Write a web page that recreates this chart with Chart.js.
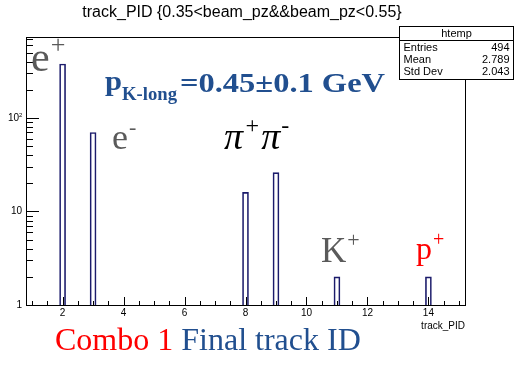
<!DOCTYPE html>
<html>
<head>
<meta charset="utf-8">
<script src="https://cdn.jsdelivr.net/npm/chart.js@4.4.0/dist/chart.umd.min.js"></script>
<style>
  html, body { margin: 0; padding: 0; background: #fff; }
  #wrap { width: 519px; height: 369px; position: relative; }
</style>
</head>
<body>
<div id="wrap"><canvas id="pidChart" width="519" height="369"></canvas></div>
<script>
// track_PID histogram (counts per particle id)
const trackIds = [2, 3, 8, 9, 11, 14];
const counts = [378, 70, 16, 26, 2, 2];

const xTickLabels = [2, 4, 6, 8, 10, 12, 14];
const yTickLabels = [1, 10, 100];

const statsRows = [["Entries", "494"], ["Mean", "2.789"], ["Std Dev", "2.043"]];

const X_MIN = 0.8, X_MAX = 15.2;
const Y_MIN = 1, Y_MAX = 735;

// write text squeezed/stretched to a given width
function fitText(ctx, txt, x, y, width) {
    const w = ctx.measureText(txt).width;
    ctx.save();
    ctx.translate(x, y);
    ctx.scale(width / w, 1);
    ctx.fillText(txt, 0, 0);
    ctx.restore();
}

// draws ROOT-like frame, inner ticks, labels and all the annotations
const rootStyle = {
    id: "rootStyle",
    afterDraw(chart) {
        const ctx = chart.ctx;
        const area = chart.chartArea;
        const xs = chart.scales.x, ys = chart.scales.y;
        ctx.save();

        // frame
        ctx.strokeStyle = "#000";
        ctx.lineWidth = 1;
        ctx.strokeRect(Math.round(area.left) + 0.5, Math.round(area.top) + 0.5,
            Math.round(area.right - area.left), Math.round(area.bottom - area.top));

        // x ticks (inside the frame)
        ctx.beginPath();
        for (let v = 1; v <= 15.001; v += 0.5) {
            const px = Math.round(xs.getPixelForValue(v)) + 0.5;
            const len = (v % 2 === 0) ? 8 : 4;
            ctx.moveTo(px, area.bottom);
            ctx.lineTo(px, area.bottom - len);
        }
        // y ticks, log
        for (let dec = 1; dec <= 100; dec *= 10) {
            for (let m = 1; m <= 9; m++) {
                const v = dec * m;
                if (v > Y_MAX) break;
                const py = Math.round(ys.getPixelForValue(v)) + 0.5;
                const len = (m === 1) ? 13 : 7;
                ctx.moveTo(area.left, py);
                ctx.lineTo(area.left + len, py);
            }
        }
        ctx.stroke();

        // tick labels
        ctx.fillStyle = "#000";
        ctx.font = "10px 'Liberation Sans', Arial, sans-serif";
        ctx.textAlign = "center";
        ctx.textBaseline = "middle";
        xTickLabels.forEach(v => {
            ctx.fillText(String(v), xs.getPixelForValue(v), area.bottom + 8);
        });
        ctx.textAlign = "right";
        yTickLabels.forEach(v => {
            const py = ys.getPixelForValue(v);
            if (v === 100) {
                ctx.font = "10px 'Liberation Sans', Arial, sans-serif";
                ctx.fillText("10", area.left - 7, py);
                ctx.font = "6px 'Liberation Sans', Arial, sans-serif";
                ctx.textAlign = "left";
                ctx.fillText("2", area.left - 7, py - 3);
                ctx.textAlign = "right";
                ctx.font = "10px 'Liberation Sans', Arial, sans-serif";
            } else {
                ctx.fillText(String(v), area.left - 4, py);
            }
        });

        // axis title
        ctx.textAlign = "right";
        ctx.fillText("track_PID", area.right, area.bottom + 21);

        // histogram title
        ctx.textAlign = "center";
        ctx.font = "16px 'Liberation Sans', Arial, sans-serif";
        ctx.fillText("track_PID {0.35<beam_pz&&beam_pz<0.55}", 242, 13);

        // stats box
        const bx = 399.5, by = 26.5, bw = 114, bh = 53;
        ctx.fillStyle = "#fff";
        ctx.fillRect(bx, by, bw, bh);
        ctx.strokeStyle = "#000";
        ctx.strokeRect(bx, by, bw, bh);
        ctx.beginPath();
        ctx.moveTo(bx, by + 14);
        ctx.lineTo(bx + bw, by + 14);
        ctx.stroke();
        ctx.fillStyle = "#000";
        ctx.font = "11px 'Liberation Sans', Arial, sans-serif";
        ctx.textAlign = "center";
        ctx.fillText("htemp", bx + bw / 2, by + 7);
        statsRows.forEach((r, i) => {
            const ty = by + 21 + i * 12;
            ctx.textAlign = "left";
            ctx.fillText(r[0], bx + 4, ty);
            ctx.textAlign = "right";
            ctx.fillText(r[1], bx + bw - 4, ty);
        });

        // particle labels
        ctx.textBaseline = "alphabetic";
        ctx.textAlign = "left";
        const serif = "'Liberation Serif', 'Times New Roman', serif";
        const sup = (base, supTxt, x, y, size, color, style) => {
            ctx.fillStyle = color;
            ctx.font = (style || "") + " " + size + "px " + serif;
            ctx.fillText(base, x, y);
            const w = ctx.measureText(base).width;
            ctx.font = (style || "") + " " + Math.round(size * 0.62) + "px " + serif;
            ctx.fillText(supTxt, x + w + 1, y - size * 0.42);
            return x + w + 1 + ctx.measureText(supTxt).width;
        };
        sup("e", "+", 31, 71, 42, "#5a5a5a");
        sup("e", "-", 112, 149, 36, "#5a5a5a");
        let nx = sup("\u03c0", "+", 224, 149, 38, "#000", "italic");
        sup("\u03c0", "-", nx + 1, 149, 38, "#000", "italic");
        sup("K", "+", 321, 262, 35, "#5a5a5a");
        sup("p", "+", 416, 259, 32, "#ff0000");

        // momentum label
        const blue = "#214f8f";
        ctx.fillStyle = blue;
        ctx.font = "bold 28px " + serif;
        fitText(ctx, "p", 105, 90, 17);
        ctx.font = "bold 18px " + serif;
        fitText(ctx, "K-long", 122, 100, 55);
        ctx.font = "bold 27px " + serif;
        fitText(ctx, "=0.45\u00b10.1 GeV", 180, 92, 205);

        // bottom caption
        ctx.font = "32px " + serif;
        ctx.fillStyle = "#ff0000";
        ctx.fillText("Combo 1", 55, 350);
        const cw = ctx.measureText("Combo 1 ").width;
        ctx.fillStyle = blue;
        ctx.fillText("Final track ID", 55 + cw, 350);

        ctx.restore();
    }
};

new Chart(document.getElementById("pidChart"), {
    type: "bar",
    data: {
        datasets: [{
            data: trackIds.map((id, i) => ({ x: id, y: counts[i] })),
            backgroundColor: "rgba(255,255,255,0)",
            borderColor: "#1b1b6b",
            borderWidth: 1,
            barThickness: 6
        }]
    },
    options: {
        responsive: false,
        animation: false,
        layout: { padding: { left: 26, right: 54, top: 37, bottom: 64 } },
        plugins: { legend: { display: false }, tooltip: { enabled: false } },
        scales: {
            x: { type: "linear", min: X_MIN, max: X_MAX, display: false, offset: false },
            y: { type: "logarithmic", min: Y_MIN, max: Y_MAX, display: false }
        }
    },
    plugins: [rootStyle]
});
</script>
</body>
</html>
